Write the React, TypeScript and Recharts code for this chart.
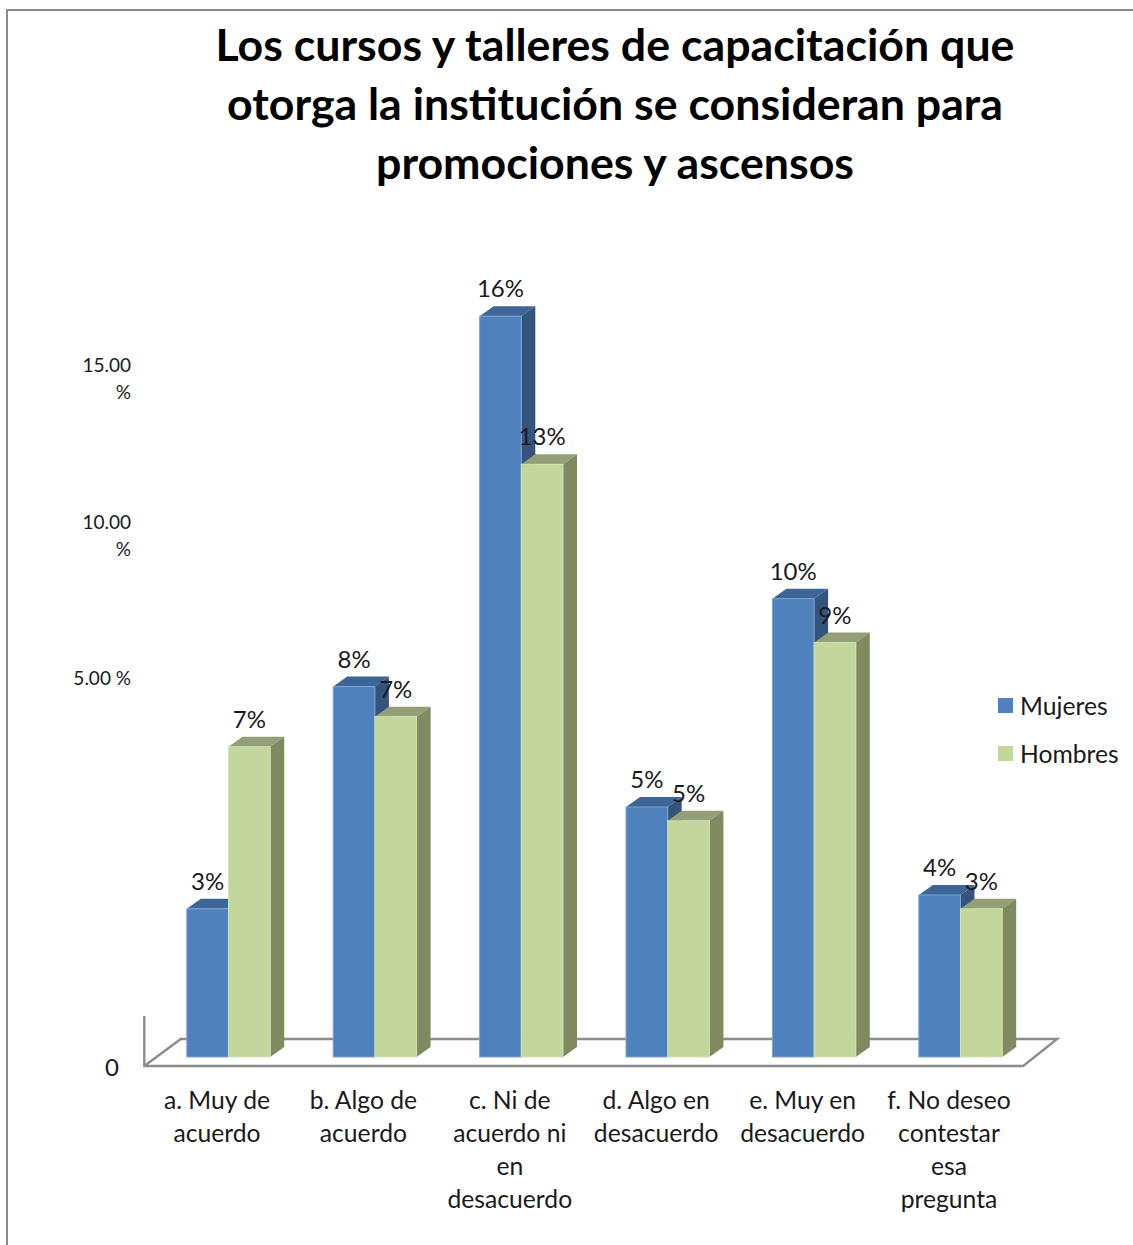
import React from "react";
import { BarChart, Bar, XAxis, YAxis, Legend, LabelList, Customized, usePlotArea } from "recharts";

const categories = [
  ["a. Muy de", "acuerdo"],
  ["b. Algo de", "acuerdo"],
  ["c. Ni de", "acuerdo ni", "en", "desacuerdo"],
  ["d. Algo en", "desacuerdo"],
  ["e. Muy en", "desacuerdo"],
  ["f. No deseo", "contestar", "esa", "pregunta"],
];
const mujeres = [3.2, 8.0, 16.0, 5.4, 9.9, 3.5];
const hombres = [6.7, 7.35, 12.8, 5.1, 8.95, 3.2];
const mujeresLabels = ["3%", "8%", "16%", "5%", "10%", "4%"];
const hombresLabels = ["7%", "7%", "13%", "5%", "9%", "3%"];
const yTickValues = [0, 8.17, 11.25, 14.63];
const yTickLabels = [["0"], ["5.00 %"], ["10.00", "%"], ["15.00", "%"]];
const titleLines = [
  "Los cursos y talleres de capacitación que",
  "otorga la institución se consideran para",
  "promociones y ascensos",
];

const data = categories.map((c, i) => ({
  name: c.join(" "),
  lines: c,
  mujeres: mujeres[i],
  hombres: hombres[i],
  mLabel: mujeresLabels[i],
  hLabel: hombresLabels[i],
}));

const FONT = "Lato, 'Open Sans', sans-serif";
const DX = 14;
const DY = 10;

function Bar3D(props: any) {
  const { x, y, width, height, fill, topFill, sideFill, edge } = props;
  const b = y + height;
  return (
    <g>
      <polygon points={`${x},${y} ${x + DX},${y - DY} ${x + width + DX},${y - DY} ${x + width},${y}`} fill={topFill} />
      <polygon points={`${x + width},${y} ${x + width + DX},${y - DY} ${x + width + DX},${b - DY} ${x + width},${b}`} fill={sideFill} />
      <rect x={x} y={y} width={width} height={height} fill={fill} stroke={edge} strokeWidth={1} />
    </g>
  );
}

function Floor() {
  const p = usePlotArea();
  if (!p) return null;
  const l = p.x;
  const b = p.y + p.height;
  const r = p.x + p.width;
  const d = `M${l - 10.5},${b - 41} L${l - 10.5},${b + 9} L${r - 10},${b + 9} L${r + 24},${b - 18} L${l + 26},${b - 18} L${l - 10.5},${b + 9}`;
  return <path d={d} fill="none" stroke="#8c8c8c" strokeWidth={2.4} />;
}

function XTick(props: any) {
  const { x, index } = props;
  const lines = categories[index] || [];
  return (
    <text x={x - 11} textAnchor="middle" fontFamily={FONT} fontSize={24.7} fill="#1a1a1a">
      {lines.map((t, i) => (
        <tspan key={i} x={x - 11} y={1109 + i * 33}>{t}</tspan>
      ))}
    </text>
  );
}

function YTick(props: any) {
  const { y, index } = props;
  const lines = yTickLabels[index] || [];
  if (index === 0) {
    return <text x={119} y={y + 19} textAnchor="end" fontFamily={FONT} fontSize={24} fill="#1a1a1a">{lines[0]}</text>;
  }
  return (
    <text textAnchor="end" fontFamily={FONT} fontSize={19} fill="#1a1a1a">
      {lines.map((t, i) => (
        <tspan key={i} x={131} y={y + 6 + (lines.length - 1) * -13.5 + i * 27}>{t}</tspan>
      ))}
    </text>
  );
}

function LegendContent(props: any) {
  const { payload } = props;
  return (
    <div style={{ fontFamily: FONT, fontSize: 24.7, color: "#1a1a1a" }}>
      {(payload || []).map((e: any) => (
        <div key={e.value} style={{ display: "flex", alignItems: "center", height: 48 }}>
          <span style={{ width: 15, height: 15, background: e.color, display: "inline-block", marginRight: 7 }} />
          <span>{e.value}</span>
        </div>
      ))}
    </div>
  );
}

function BarLabel(props: any) {
  const { x, y, width, value } = props;
  return (
    <text x={x + width / 2} y={y - 19} textAnchor="middle" fontFamily={FONT} fontSize={24} fill="#1a1a1a">{value}</text>
  );
}

export default function App() {
  return (
    <div style={{ position: "absolute", left: 0, top: 0, width: 1133, height: 1245, background: "#fff", overflow: "hidden" }}>
      <div style={{ position: "absolute", left: 6, top: 9, width: 1140, height: 1260, border: "2px solid #8c8c8c", boxSizing: "border-box" }} />
      <div style={{ position: "absolute", left: 0, top: 15, width: 1230, textAlign: "center", fontFamily: FONT, fontWeight: 700, fontSize: 44.7, lineHeight: "59px", color: "#000" }}>
        {titleLines.map((t) => (
          <div key={t}>{t}</div>
        ))}
      </div>
      <div style={{ position: "absolute", left: 0, top: 0 }}>
        <BarChart
          width={1133}
          height={1245}
          data={data}
          margin={{ top: 131, right: 99.8, bottom: 0, left: 94.5 }}
          barSize={41.7}
          barGap={0}
        >
          <Customized component={Floor} />
          <XAxis dataKey="name" height={188} interval={0} tick={<XTick />} axisLine={false} tickLine={false} />
          <YAxis
            domain={[0, 20]}
            ticks={yTickValues}
            width={60.3}
            interval={0}
            tick={<YTick />}
            axisLine={false}
            tickLine={false}
          />
          <Legend
            verticalAlign="middle"
            align="center"
            layout="vertical"
            itemSorter={null}
            content={<LegendContent />}
            wrapperStyle={{ position: "absolute", left: 998, top: 681, width: 135 }}
          />
          <Bar
            dataKey="mujeres"
            name="Mujeres"
            fill="#4f81bd"
            isAnimationActive={false}
            shape={(p: any) => <Bar3D {...p} topFill="#3d6595" sideFill="#34547e" edge="#7fa3d0" />}
          >
            <LabelList dataKey="mLabel" content={<BarLabel />} />
          </Bar>
          <Bar
            dataKey="hombres"
            name="Hombres"
            fill="#c3d69b"
            isAnimationActive={false}
            shape={(p: any) => <Bar3D {...p} topFill="#949f78" sideFill="#7f8a61" edge="#d3e2b5" />}
          >
            <LabelList dataKey="hLabel" content={<BarLabel />} />
          </Bar>
        </BarChart>
      </div>
    </div>
  );
}
